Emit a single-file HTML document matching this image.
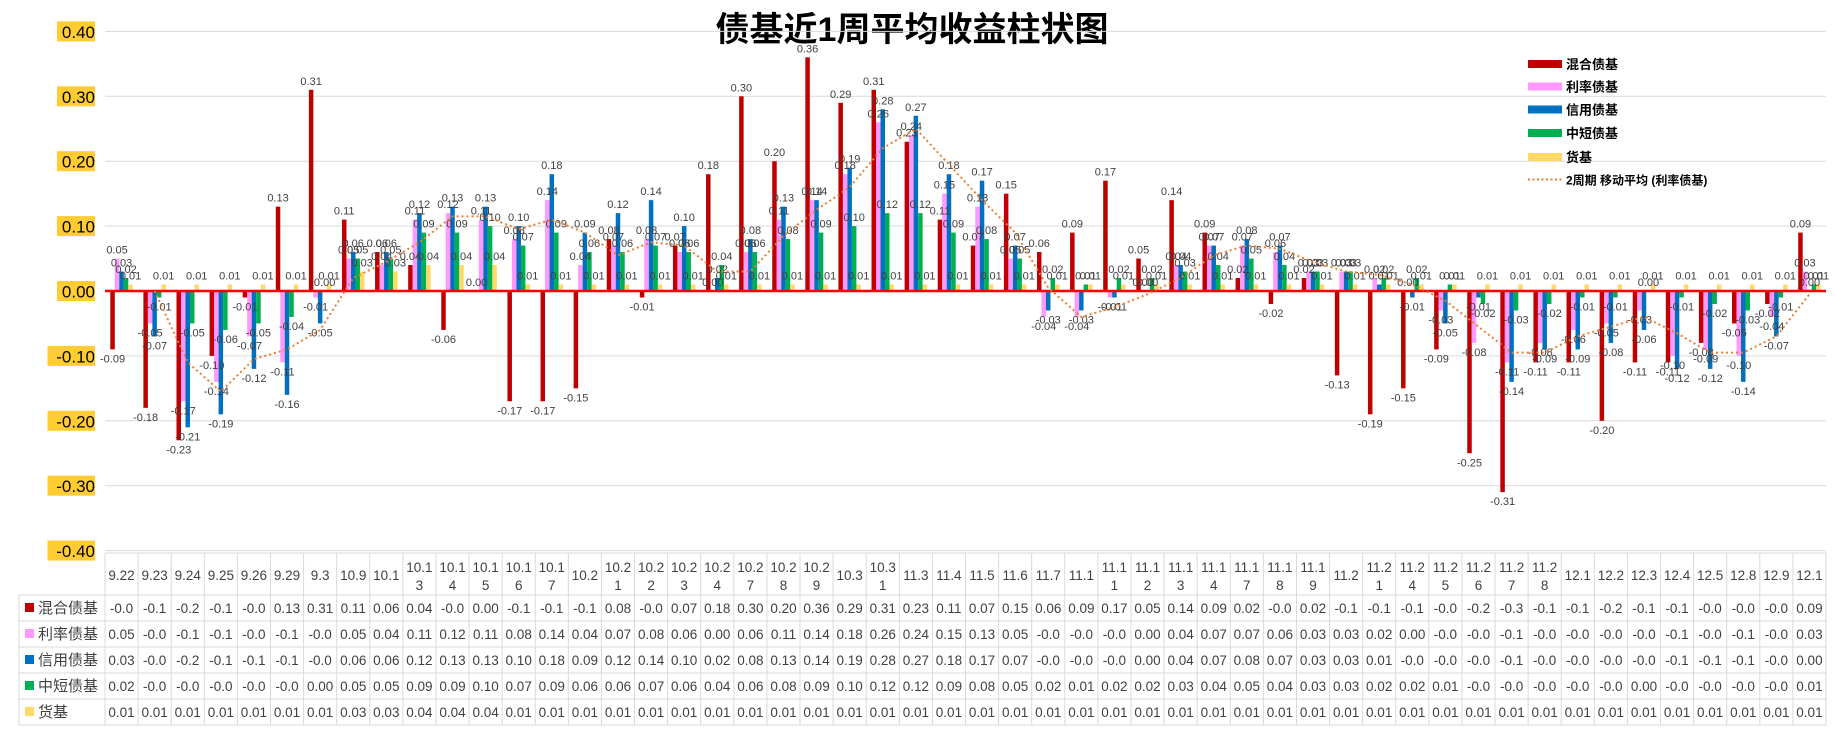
<!DOCTYPE html>
<html><head><meta charset="utf-8">
<style>
html,body{margin:0;padding:0;background:#fff;}
svg{display:block;font-family:"Liberation Sans","Noto Sans CJK SC",sans-serif;}
</style></head>
<body>
<svg id="chart" width="1835" height="733" viewBox="0 0 1835 733" xmlns="http://www.w3.org/2000/svg">
<text x="912" y="41" text-anchor="middle" font-size="34" font-weight="bold" fill="#000" font-family="'Liberation Sans','Noto Sans CJK SC',sans-serif">债基近1周平均收益柱状图</text>
<g id="grid"></g><g id="bars"></g><g id="labels"></g><g id="ma"></g><g id="yaxis"></g><g id="table"></g>
<g id="legend"></g>
</svg>
<script>
const categories=["9.22","9.23","9.24","9.25","9.26","9.29","9.3","10.9","10.1","10.13","10.14","10.15","10.16","10.17","10.2","10.21","10.22","10.23","10.24","10.27","10.28","10.29","10.3","10.31","11.3","11.4","11.5","11.6","11.7","11.1","11.11","11.12","11.13","11.14","11.17","11.18","11.19","11.2","11.21","11.24","11.25","11.26","11.27","11.28","12.1","12.2","12.3","12.4","12.5","12.8","12.9","12.1"];
const hunhe=[-0.09,-0.18,-0.23,-0.10,-0.01,0.13,0.31,0.11,0.06,0.04,-0.06,0.00,-0.17,-0.17,-0.15,0.08,-0.01,0.07,0.18,0.30,0.20,0.36,0.29,0.31,0.23,0.11,0.07,0.15,0.06,0.09,0.17,0.05,0.14,0.09,0.02,-0.02,0.02,-0.13,-0.19,-0.15,-0.09,-0.25,-0.31,-0.11,-0.11,-0.20,-0.11,-0.11,-0.08,-0.05,-0.02,0.09];
const lilv=[0.05,-0.05,-0.17,-0.14,-0.07,-0.11,-0.01,0.05,0.04,0.11,0.12,0.11,0.08,0.14,0.04,0.07,0.08,0.06,0.00,0.06,0.11,0.14,0.18,0.26,0.24,0.15,0.13,0.05,-0.04,-0.04,-0.01,0.00,0.04,0.07,0.07,0.06,0.03,0.03,0.02,0.00,-0.03,-0.08,-0.11,-0.08,-0.06,-0.05,-0.03,-0.10,-0.09,-0.10,-0.04,0.03];
const xinyong=[0.03,-0.07,-0.21,-0.19,-0.12,-0.16,-0.05,0.06,0.06,0.12,0.13,0.13,0.10,0.18,0.09,0.12,0.14,0.10,0.02,0.08,0.13,0.14,0.19,0.28,0.27,0.18,0.17,0.07,-0.03,-0.03,-0.01,0.00,0.04,0.07,0.08,0.07,0.03,0.03,0.01,-0.01,-0.05,-0.01,-0.14,-0.09,-0.09,-0.08,-0.06,-0.12,-0.12,-0.14,-0.07,0.00];
const zhongduan=[0.02,-0.01,-0.05,-0.06,-0.05,-0.04,0.00,0.05,0.05,0.09,0.09,0.10,0.07,0.09,0.06,0.06,0.07,0.06,0.04,0.06,0.08,0.09,0.10,0.12,0.12,0.09,0.08,0.05,0.02,0.01,0.02,0.02,0.03,0.04,0.05,0.04,0.03,0.03,0.02,0.02,0.01,-0.02,-0.03,-0.02,-0.01,-0.01,0.00,-0.01,-0.02,-0.03,-0.01,0.01];
const huoji=[0.01,0.01,0.01,0.01,0.01,0.01,0.01,0.03,0.03,0.04,0.04,0.04,0.01,0.01,0.01,0.01,0.01,0.01,0.01,0.01,0.01,0.01,0.01,0.01,0.01,0.01,0.01,0.01,0.01,0.01,0.01,0.01,0.01,0.01,0.01,0.01,0.01,0.01,0.01,0.01,0.01,0.01,0.01,0.01,0.01,0.01,0.01,0.01,0.01,0.01,0.01,0.01];
const yTicks=[0.4,0.3,0.2,0.1,0,-0.1,-0.2,-0.3,-0.4];
const seriesNames=["混合债基","利率债基","信用债基","中短债基","货基"];
const seriesColors=["#C00000","#FF99FF","#0070C0","#00B050","#FFD966"];
const seriesData=[hunhe,lilv,xinyong,zhongduan,huoji];

const NS="http://www.w3.org/2000/svg";
const X0=105,X1=1826,Y0=291,UNIT=649;
const cw=(X1-X0)/categories.length, bw=4.5;
const y=v=>Y0-v*UNIT;
const xc=i=>X0+(i+0.5)*cw;
function mk(tag,attrs,parent){const e=document.createElementNS(NS,tag);for(const k in attrs)e.setAttribute(k,attrs[k]);parent.appendChild(e);return e;}
const G=id=>document.getElementById(id);

// grid + y labels
yTicks.forEach(t=>{
  if(t!==0){const l=mk('line',{x1:X0,x2:X1,y1:y(t),y2:y(t),stroke:'#D9D9D9','stroke-width':1},G('grid'));
  
  }
  const txt=t.toFixed(2);
  const w=txt.length*9.5;
  const r=mk('rect',{x:95-w,y:y(t)-10,width:w,height:20,fill:'#FFCC33'},G('yaxis'));
  
  
  const tx=mk('text',{x:95,y:y(t)+6.5,'text-anchor':'end','font-size':17,fill:'#000'},G('yaxis'));
  tx.textContent=txt;
  
  
});

// bars + labels
seriesData.forEach((arr,s)=>{
  arr.forEach((v,i)=>{
    const bx=xc(i)+(s-2)*bw-bw/2;
    const top=Math.min(y(v),Y0),h=Math.abs(y(v)-Y0);
    const b=mk('rect',{x:bx,y:top,width:bw,height:Math.max(h,0.5),fill:seriesColors[s]},G('bars'));
    
    
    const t=mk('text',{x:bx+bw/2,y:v>=0?y(v)-5:y(v)+13,'text-anchor':'middle','font-size':11,fill:'#404040'},G('labels'));
    t.textContent=v.toFixed(2);
    
    
  });
});
// zero line
const z=mk('line',{x1:X0,x2:X1,y1:Y0,y2:Y0,stroke:'#FF0000','stroke-width':2.5},G('grid'));


G('grid').parentNode.insertBefore(G('grid'),G('bars'));
G('bars').after(mk('g',{id:'zl'},G('chart')));
G('zl').appendChild(z);

// moving average of 利率债基
let pts=[];
for(let i=1;i<lilv.length;i++){pts.push(xc(i)+','+y((lilv[i-1]+lilv[i])/2));}
const ma=mk('polyline',{points:pts.join(' '),fill:'none',stroke:'#ED7D31','stroke-width':2,'stroke-dasharray':'2 3'},G('ma'));



// legend
const ly=[64,86.5,109.5,133,157];
seriesNames.forEach((n,s)=>{
  const r=mk('rect',{x:1528,y:ly[s]-4,width:34,height:8,fill:seriesColors[s]},G('legend'));
  
  
  const t=mk('text',{x:1566,y:ly[s]+5,'font-size':13,'font-weight':'bold',fill:'#000'},G('legend'));
  t.textContent=n;
  
  
});
const ll=mk('line',{x1:1528,x2:1562,y1:179.5,y2:179.5,stroke:'#ED7D31','stroke-width':2,'stroke-dasharray':'2 2.5'},G('legend'));


const lt=mk('text',{x:1566,y:184.5,'font-size':12,'font-weight':'bold',fill:'#000'},G('legend'));
lt.textContent='2周期 移动平均 (利率债基)';



// data table
const TT=553,HB=595,RH=26,TL=19;
const tb=G('table');
const bc='#D9D9D9';
function L(x1,y1,x2,y2){const l=mk('line',{x1,y1,x2,y2,stroke:bc,'stroke-width':1},tb);}
L(X0,TT,X1,TT);
for(let r=0;r<=5;r++)L(TL,HB+r*RH,X1,HB+r*RH);
L(TL,HB,TL,HB+5*RH);
for(let i=0;i<=categories.length;i++)L(X0+i*cw,TT,X0+i*cw,HB+5*RH);
categories.forEach((c,i)=>{
  const lines=c.length>4?[c.slice(0,4),c.slice(4)]:[c];
  lines.forEach((ln,k)=>{
    const t=mk('text',{x:xc(i),y:lines.length>1?TT+19+k*18:TT+27,'text-anchor':'middle','font-size':13.5,fill:'#404040'},tb);
    t.textContent=ln;
    
    
  });
});
seriesNames.forEach((n,s)=>{
  const ry=HB+s*RH;
  const sw=mk('rect',{x:25,y:ry+8,width:9,height:9,fill:seriesColors[s]},tb);
  
  
  const t=mk('text',{x:38,y:ry+18,'font-size':15,fill:'#404040'},tb);
  t.textContent=n;
  
  
  seriesData[s].forEach((v,i)=>{
    let str=v.toFixed(2); if(str.length>4)str=str.slice(0,4);
    const c=mk('text',{x:xc(i),y:ry+18,'text-anchor':'middle','font-size':13.5,fill:'#404040'},tb);
    c.textContent=str;
    
    
  });
});
</script>
</body></html>
